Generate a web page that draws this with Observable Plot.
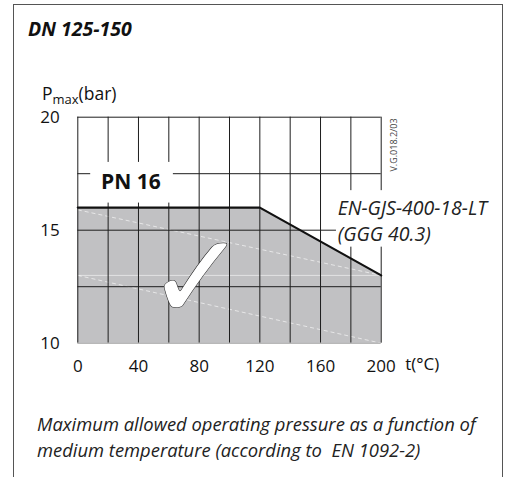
<!DOCTYPE html>
<html><head><meta charset="utf-8">
<script src="https://cdn.jsdelivr.net/npm/d3@7"></script>
<script src="https://cdn.jsdelivr.net/npm/@observablehq/plot@0.6"></script>
<style>
body{margin:0;background:#fff;font-family:"Open Sans",sans-serif;}
#wrap{position:relative;width:509px;height:477px;overflow:hidden;background:#fff;}
#frame{position:absolute;left:13px;top:4px;width:490px;height:520px;border:1.5px solid #555;box-sizing:border-box;}
#title{position:absolute;left:28px;top:16px;font-weight:700;font-style:italic;font-size:19.5px;color:#111;line-height:26px;}
#ylabel{position:absolute;left:42px;top:82px;font-size:17.5px;color:#111;line-height:22px;}
#ylabel sub{font-size:13px;vertical-align:-4px;line-height:0;}
#caption{position:absolute;left:37px;top:411px;font-style:italic;font-size:18.4px;line-height:26px;color:#222;white-space:nowrap;}
#chart{position:absolute;left:0;top:0;}
</style></head>
<body><div id="wrap"><div id="frame"></div><div id="chart"></div><div id="title">DN 125-150</div><div id="ylabel">P<sub>max</sub>(bar)</div><div id="caption">Maximum allowed operating pressure as a function of<br>medium temperature (according to&nbsp; EN 1092-2)</div></div>
<script>
const temperature = [0, 120, 200];
const pressure = [16, 16, 13];
const xTickValues = [0, 40, 80, 120, 160, 200];
const yTickValues = [10, 15, 20];
const xGridValues = [0, 20, 40, 60, 80, 100, 120, 140, 160, 180, 200];
const yGridValues = [10, 12.5, 15, 17.5, 20];
const scanLines = [
  {x1: 0, y1: 15.9, x2: 200, y2: 13},
  {x1: 0, y1: 13, x2: 200, y2: 10}
];
const classLabel = [{t: 35, p: 17.1, text: "PN 16"}];
const materialLabel = [{t: 171.3, p: 15.45, text: "EN-GJS-400-18-LT\n(GGG 40.3)"}];
const labelBoxes = [
  {x1: 8.5, x2: 63, y1: 16.2, y2: 18.0},
  {x1: 170.5, x2: 275, y1: 14.25, y2: 16.75}
];
const checkMark = [{t: 78.5, p: 12.75, text: "\u2713"}];
const drawingCode = [{t: 208.5, p: 19.95, text: "V.G.018.2/03"}];

const data = temperature.map((t, i) => ({t, p: pressure[i]}));

const chart = Plot.plot({
  width: 509, height: 400,
  marginLeft: 77.3, marginRight: 128.3, marginTop: 116.7, marginBottom: 57.3,
  x: {domain: [0, 200]},
  y: {domain: [10, 20]},
  style: {fontFamily: "'Open Sans', sans-serif", fontSize: "16px", color: "#111", background: "transparent", overflow: "visible"},
  marks: [
    Plot.areaY(data, {x: "t", y1: 10, y2: "p", fill: "#c1c1c3"}),
    Plot.ruleY([13], {stroke: "#fff", strokeOpacity: 0.55}),
    Plot.link(scanLines, {x1: "x1", y1: "y1", x2: "x2", y2: "y2", stroke: "#fff", strokeOpacity: 0.6, strokeDasharray: "4,3"}),
    Plot.ruleX(xGridValues, {stroke: "#1e1e1e", strokeWidth: 1}),
    Plot.ruleY(yGridValues, {stroke: d => d === 10 ? "#999" : "#1e1e1e", strokeWidth: 1}),
    Plot.rect(labelBoxes, {x1: "x1", x2: "x2", y1: "y1", y2: "y2", fill: "#fff"}),
    Plot.line(data, {x: "t", y: "p", stroke: "#111", strokeWidth: 2.2}),
    Plot.text(classLabel, {x: "t", y: "p", text: "text", fontSize: 21, fontWeight: 700, fill: "#111"}),
    Plot.text(materialLabel, {x: "t", y: "p", text: "text", fontSize: 19.5, fontStyle: "italic", textAnchor: "start", lineHeight: 1.33, fill: "#222"}),
    Plot.text(checkMark, {x: "t", y: "p", text: "text", fontSize: 120, fontFamily: "DejaVu Sans", fill: "#fff", stroke: "#222", strokeWidth: 1.1}),
    Plot.text(drawingCode, {x: "t", y: "p", text: "text", rotate: -90, textAnchor: "end", fontSize: 9, fill: "#444"}),
    Plot.text(["t(\u00b0C)"], {frameAnchor: "bottom-right", dx: 24, dy: 27, textAnchor: "start", fontSize: 17, fill: "#111"}),
    Plot.axisX(xTickValues, {tickSize: 0, tickPadding: 17, fontSize: 17, label: null}),
    Plot.axisY(yTickValues, {tickSize: 0, tickPadding: 18, fontSize: 17, label: null})
  ]
});
document.getElementById("chart").appendChild(chart);
</script>
</body></html>
